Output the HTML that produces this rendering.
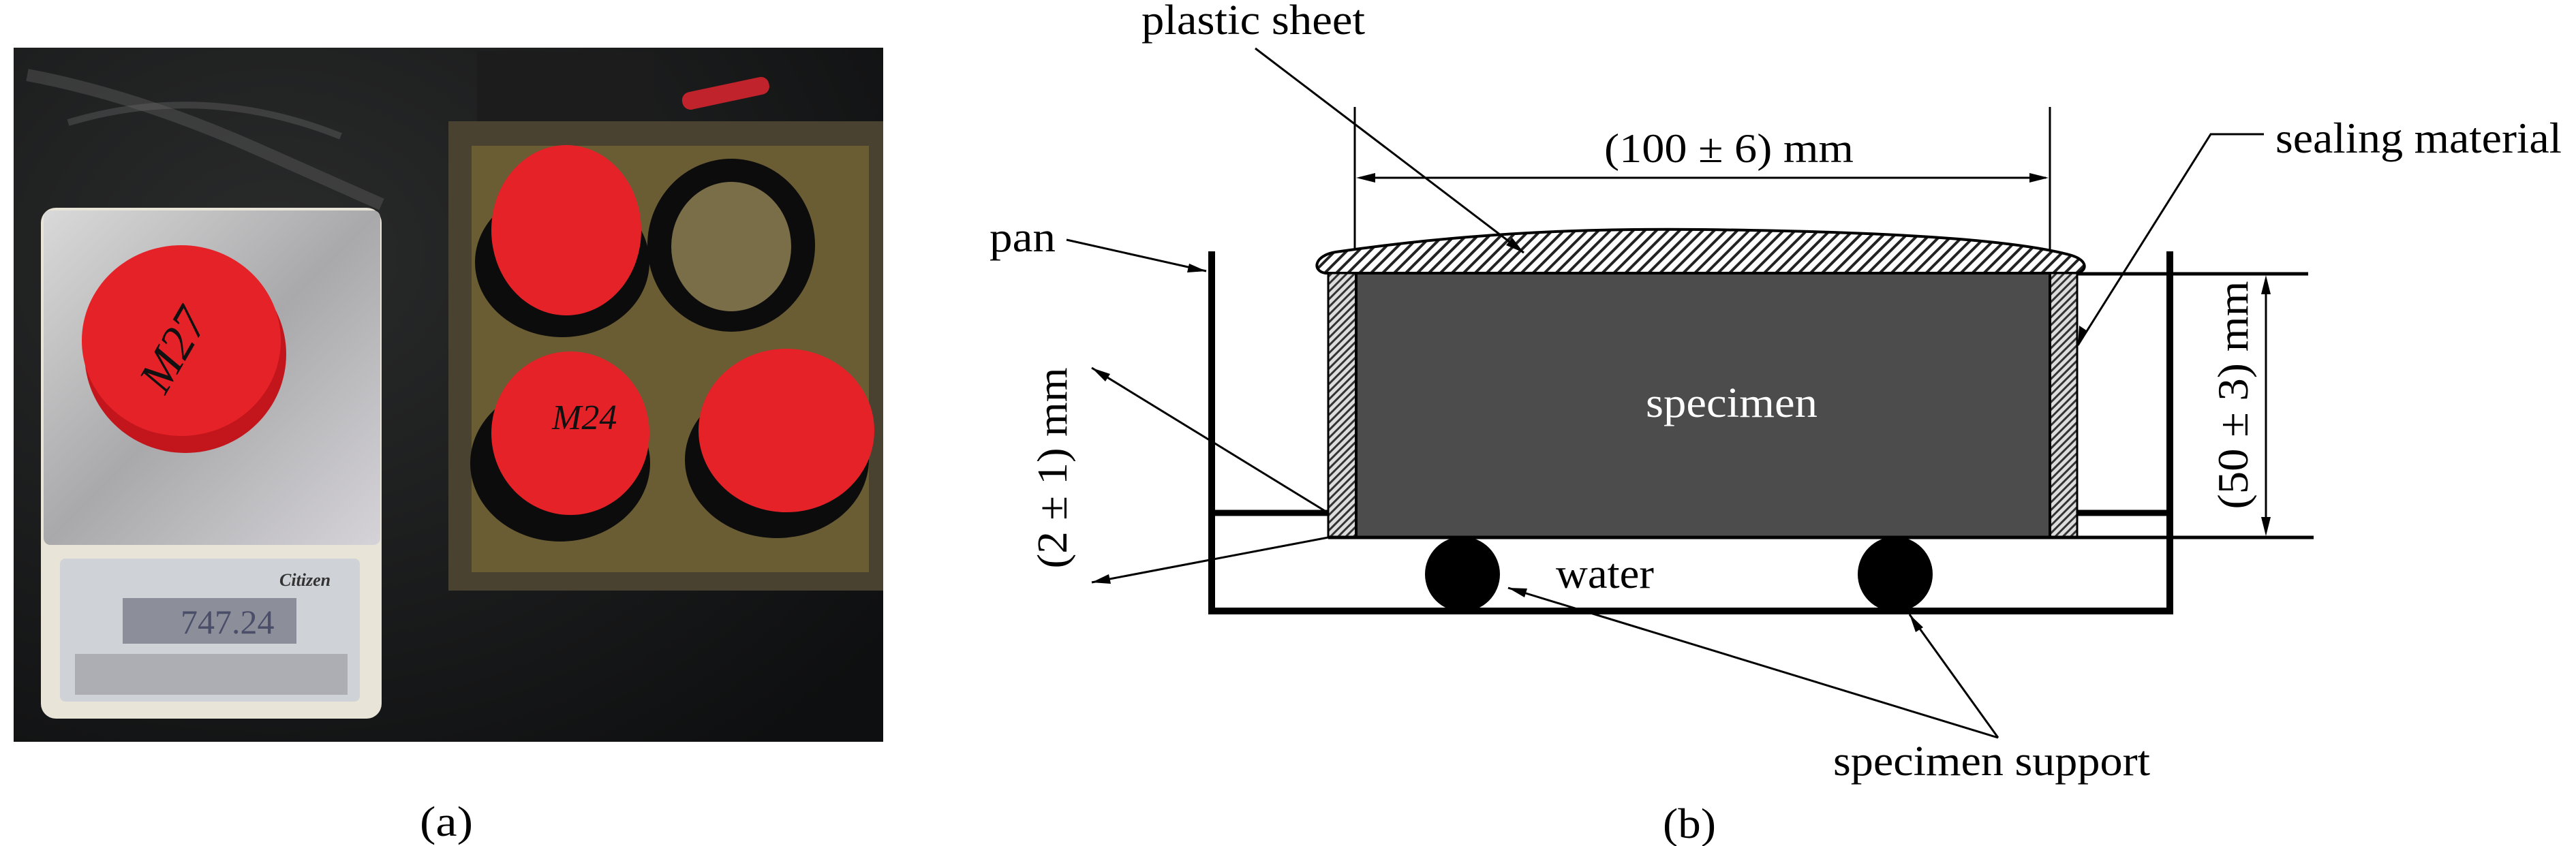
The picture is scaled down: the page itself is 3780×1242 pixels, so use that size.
<!DOCTYPE html>
<html><head><meta charset="utf-8"><style>
html,body{margin:0;padding:0;background:#fff;width:3780px;height:1242px;overflow:hidden}
svg{display:block}
svg text{font-family:"Liberation Serif","DejaVu Serif",serif}
</style></head><body>
<svg width="3780" height="1242" viewBox="0 0 3780 1242" xmlns="http://www.w3.org/2000/svg">
<defs>
<pattern id="hatch" width="12" height="12" patternUnits="userSpaceOnUse" patternTransform="rotate(45)">
<rect width="12" height="12" fill="#fff"/><rect width="4" height="12" fill="#222"/></pattern>
<pattern id="hatch2" width="8" height="8" patternUnits="userSpaceOnUse" patternTransform="rotate(45)">
<rect width="8" height="8" fill="#ddd"/><rect width="3" height="8" fill="#333"/></pattern>
<radialGradient id="bg" cx="0.3" cy="0.3" r="0.9"><stop offset="0" stop-color="#2a2b2b"/><stop offset="1" stop-color="#0e0f10"/></radialGradient>
<linearGradient id="plat" x1="0" y1="0" x2="1" y2="1"><stop offset="0" stop-color="#d9d9d9"/><stop offset="0.5" stop-color="#a9a9ab"/><stop offset="1" stop-color="#d5d3d8"/></linearGradient>
</defs>

<rect x="20" y="70" width="1276" height="1019" fill="url(#bg)"/>
<path d="M40,110 Q200,140 380,220 T560,300" stroke="#555" stroke-width="18" fill="none" opacity="0.5"/>
<path d="M100,180 Q300,120 500,200" stroke="#666" stroke-width="10" fill="none" opacity="0.4"/>
<rect x="700" y="75" width="260" height="105" fill="#1c1c1c"/>
<rect x="1000" y="125" width="130" height="26" rx="12" fill="#c0232b" transform="rotate(-12 1060 138)"/>
<rect x="658" y="178" width="638" height="689" fill="#4a4230"/>
<rect x="692" y="214" width="583" height="626" fill="#6a5c33"/>
<rect x="60" y="305" width="500" height="750" rx="22" fill="#e8e4d8"/>
<rect x="64" y="309" width="494" height="491" rx="10" fill="url(#plat)"/>
<rect x="88" y="820" width="440" height="210" rx="8" fill="#cfd3d8"/>
<rect x="180" y="878" width="255" height="67" fill="#8c8f9a"/>
<text x="265" y="930" font-size="50" fill="#4a4e68">747.24</text>
<text x="410" y="860" font-size="26" fill="#333" font-style="italic" font-weight="bold">Citizen</text>
<rect x="110" y="960" width="400" height="60" fill="#8a8a90" opacity="0.5"/>
<ellipse cx="272" cy="520" rx="148" ry="145" fill="#c2161c"/>
<ellipse cx="266" cy="500" rx="146" ry="140" fill="#e52228"/>
<text x="190" y="530" font-size="70" fill="#111" font-style="italic" transform="rotate(-60 260 510)">M27</text>
<ellipse cx="825" cy="385" rx="128" ry="110" fill="#0c0c0c"/>
<ellipse cx="831" cy="338" rx="110" ry="125" fill="#e52228"/>
<ellipse cx="1073" cy="360" rx="123" ry="127" fill="#0c0c0c"/>
<ellipse cx="1073" cy="362" rx="88" ry="95" fill="#7a6e48"/>
<ellipse cx="822" cy="680" rx="132" ry="115" fill="#0c0c0c"/>
<ellipse cx="837" cy="636" rx="116" ry="120" fill="#e52228"/>
<ellipse cx="1140" cy="675" rx="135" ry="115" fill="#0c0c0c"/>
<ellipse cx="1154" cy="632" rx="129" ry="120" fill="#e52228"/>
<text x="810" y="630" font-size="52" fill="#111" font-style="italic">M24</text>

<text x="655" y="1227" font-size="62" text-anchor="middle" textLength="78" lengthAdjust="spacingAndGlyphs">(a)</text>

<line x1="1988" y1="157" x2="1988" y2="402" stroke="#000" stroke-width="3"/>
<line x1="3008" y1="157" x2="3008" y2="402" stroke="#000" stroke-width="3"/>
<line x1="1995" y1="261" x2="3002" y2="261" stroke="#000" stroke-width="3"/>
<path d="M2018,254 L1990,261 L2018,268 z" fill="#000"/>
<path d="M2978,254 L3006,261 L2978,268 z" fill="#000"/>
<text x="2537" y="238" font-size="60" text-anchor="middle" textLength="366" lengthAdjust="spacingAndGlyphs">(100 ± 6) mm</text>

<path d="M1945,401 C1925,398 1928,375 1960,370 C2200,335 2400,336 2500,337 C2750,340 2950,350 3040,375 C3065,383 3062,398 3048,401 Z" fill="url(#hatch)" stroke="#000" stroke-width="4"/>
<rect x="1949" y="401" width="41" height="388" fill="url(#hatch2)" stroke="#000" stroke-width="3"/>
<rect x="3008" y="401" width="40" height="388" fill="url(#hatch2)" stroke="#000" stroke-width="3"/>
<rect x="1990" y="401" width="1018" height="388" fill="#4c4c4c" stroke="#000" stroke-width="4"/>
<text x="2541" y="612" font-size="62" text-anchor="middle" fill="#fff" textLength="252" lengthAdjust="spacingAndGlyphs">specimen</text>

<line x1="3048" y1="402" x2="3387" y2="402" stroke="#000" stroke-width="5"/>
<line x1="1949" y1="789" x2="3395" y2="789" stroke="#000" stroke-width="5"/>
<path d="M1778,369 L1778,897 L3184,897 L3184,369" fill="none" stroke="#000" stroke-width="10"/>
<line x1="1778" y1="753" x2="1949" y2="753" stroke="#000" stroke-width="9"/>
<line x1="3048" y1="753" x2="3184" y2="753" stroke="#000" stroke-width="9"/>
<circle cx="2146" cy="843" r="55" fill="#000"/>
<circle cx="2781" cy="843" r="55" fill="#000"/>
<text x="2283" y="863" font-size="62" textLength="144" lengthAdjust="spacingAndGlyphs">water</text>

<line x1="3325" y1="410" x2="3325" y2="781" stroke="#000" stroke-width="3"/>
<path d="M3318,432 L3325,404 L3332,432 z" fill="#000"/>
<path d="M3318,759 L3325,787 L3332,759 z" fill="#000"/>
<text x="0" y="0" font-size="64" text-anchor="middle" textLength="335" lengthAdjust="spacingAndGlyphs" transform="translate(3298,580) rotate(-90)">(50 ± 3) mm</text>

<text x="3339" y="224" font-size="64" textLength="420" lengthAdjust="spacingAndGlyphs">sealing material</text>
<polyline points="3322,197 3244,197 3049,507" fill="none" stroke="#000" stroke-width="3"/>
<path d="M3049,507 L3051,478 L3063,486 z" fill="#000"/>

<text x="1675" y="50" font-size="62" textLength="328" lengthAdjust="spacingAndGlyphs">plastic sheet</text>
<line x1="1842" y1="71" x2="2236" y2="371" stroke="#000" stroke-width="3"/>
<path d="M2236,371 L2210,360 L2219,349 z" fill="#000"/>

<text x="1452" y="369" font-size="62" textLength="97" lengthAdjust="spacingAndGlyphs">pan</text>
<line x1="1565" y1="352" x2="1770" y2="398" stroke="#000" stroke-width="3"/>
<path d="M1770,398 L1742,400 L1745,387 z" fill="#000"/>

<text x="0" y="0" font-size="62" text-anchor="middle" textLength="295" lengthAdjust="spacingAndGlyphs" transform="translate(1565,687) rotate(-90)">(2 ± 1) mm</text>
<line x1="1949" y1="753" x2="1602" y2="540" stroke="#000" stroke-width="3"/>
<path d="M1602,540 L1629,549 L1622,560 z" fill="#000"/>
<line x1="1949" y1="789" x2="1602" y2="855" stroke="#000" stroke-width="3"/>
<path d="M1602,855 L1627,843 L1630,857 z" fill="#000"/>

<text x="2690" y="1138" font-size="62" textLength="465" lengthAdjust="spacingAndGlyphs">specimen support</text>
<line x1="2932" y1="1083" x2="2213" y2="863" stroke="#000" stroke-width="3"/>
<path d="M2213,863 L2241,864 L2237,877 z" fill="#000"/>
<line x1="2932" y1="1083" x2="2802" y2="902" stroke="#000" stroke-width="3"/>
<path d="M2802,902 L2822,921 L2811,928 z" fill="#000"/>

<text x="2479" y="1230" font-size="62" text-anchor="middle" textLength="78" lengthAdjust="spacingAndGlyphs">(b)</text>
</svg>
</body></html>
